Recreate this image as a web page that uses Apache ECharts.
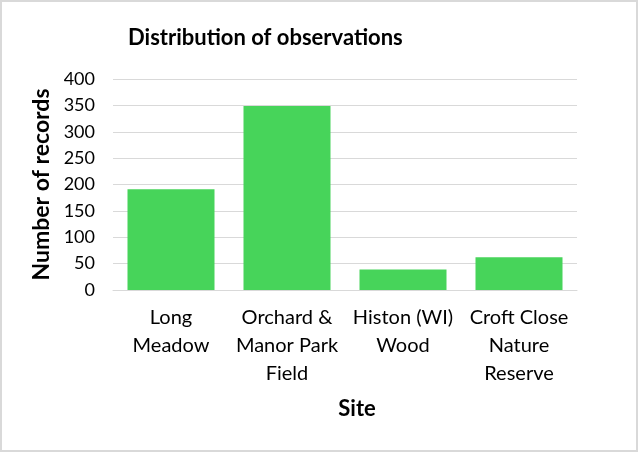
<!DOCTYPE html>
<html>
<head>
<meta charset="utf-8">
<script src="https://cdn.jsdelivr.net/npm/echarts@6/dist/echarts.min.js"></script>
<style>
    html, body { margin: 0; padding: 0; background: #fff; }
    #chart { width: 638px; height: 452px; }
</style>
</head>
<body>
<div id="chart"></div>
<script>
// 数据
var sites = ['Long\nMeadow', 'Orchard &\nManor Park\nField', 'Histon (WI)\nWood', 'Croft Close\nNature\nReserve'];
var records = [191, 349, 39, 62];
var yTicks = [0, 50, 100, 150, 200, 250, 300, 350, 400];

var font = 'Lato, Calibri, "Noto Sans", sans-serif';

{
    var myChart = echarts.init(document.getElementById('chart'));
    var option = {
        animation: false,
        color: ['#47d45a'],
        title: {
            text: 'Distribution of observations',
            left: 123,
            top: 22,
            textStyle: {
                fontFamily: font,
                fontSize: 22,
                fontWeight: 'bold',
                color: '#000'
            }
        },
        graphic: [
            {
                type: 'rect',
                shape: { x: 1, y: 1, width: 636, height: 450 },
                style: { fill: 'none', stroke: '#d9d9d9', lineWidth: 2 },
                silent: true
            }
        ],
        grid: {
            left: 113,
            right: 61,
            top: 79,
            bottom: 162
        },
        xAxis: [
            {
                type: 'category',
                data: sites,
                name: 'Site',
                nameLocation: 'middle',
                nameGap: 108,
                nameTextStyle: {
                    fontFamily: font,
                    fontSize: 22,
                    fontWeight: 'bold',
                    color: '#000',
                    padding: [0, 0, 0, 24]
                },
                axisTick: { show: false },
                axisLine: {
                    show: true,
                    lineStyle: { color: '#d9d9d9', width: 1 }
                },
                axisLabel: {
                    interval: 0,
                    margin: 14,
                    fontFamily: font,
                    fontSize: 20,
                    lineHeight: 28,
                    color: '#000'
                }
            }
        ],
        yAxis: [
            {
                type: 'value',
                min: yTicks[0],
                max: yTicks[yTicks.length - 1],
                interval: yTicks[1] - yTicks[0],
                name: 'Number of records',
                nameLocation: 'middle',
                nameGap: 57,
                nameTextStyle: {
                    fontFamily: font,
                    fontSize: 23,
                    fontWeight: 'bold',
                    color: '#000'
                },
                axisLine: { show: false },
                axisTick: { show: false },
                axisLabel: {
                    margin: 18,
                    fontFamily: font,
                    fontSize: 18,
                    color: '#000'
                },
                splitLine: {
                    lineStyle: { color: '#d9d9d9', width: 1 }
                }
            }
        ],
        series: [
            {
                name: 'Records',
                type: 'bar',
                barCategoryGap: '25%',
                data: records
            }
        ]
    };
    myChart.setOption(option);
    window.addEventListener('resize', function () {
        myChart.resize();
    });
}
</script>
</body>
</html>
